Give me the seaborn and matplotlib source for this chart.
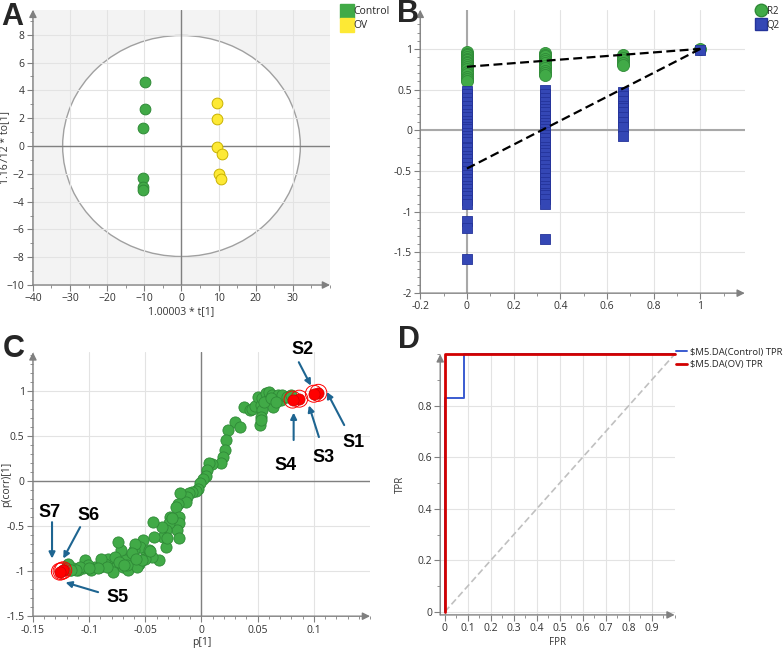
import numpy as np
import pandas as pd
import matplotlib
matplotlib.use("Agg")
import matplotlib.pyplot as plt
import seaborn as sns
from matplotlib.patches import Ellipse
from matplotlib.lines import Line2D
from matplotlib.ticker import MultipleLocator, FixedLocator

# ---------------- Panel A data (OPLS-DA scores) ----------------
a_ctrl_t = [-9.8, -9.8, -10.4, -10.4, -10.4, -10.4]
a_ctrl_to = [4.63, 2.65, 1.33, -2.29, -2.96, -3.18]
a_ov_t = [9.5, 9.5, 9.5, 10.9, 10.2, 10.7]
a_ov_to = [3.08, 1.93, -0.05, -0.6, -1.98, -2.34]
a_ellipse = (32.0, 7.95)  # half-axes

# ---------------- Panel B data (permutation test) ----------------
b_r2_0 = [0.96, 0.94, 0.92, 0.90, 0.88, 0.86, 0.84, 0.82, 0.80, 0.78, 0.75, 0.72,
          0.69, 0.66, 0.63, 0.60]
b_q2_0 = [0.48, 0.44, 0.40, 0.35, 0.30, 0.25, 0.20, 0.16, 0.12, 0.08, 0.04, 0.01,
          -0.03, -0.07, -0.11, -0.15, -0.20, -0.22, -0.27, -0.31, -0.35, -0.40,
          -0.45, -0.50, -0.55, -0.60, -0.64, -0.68, -0.72, -0.77, -0.81, -0.86,
          -0.90, -1.12, -1.20, -1.58]
b_r2_1 = [0.95, 0.93, 0.91, 0.88, 0.85, 0.82, 0.79, 0.76, 0.73, 0.70, 0.68]
b_q2_1 = [0.49, 0.45, 0.40, 0.35, 0.30, 0.26, 0.22, 0.17, 0.13, 0.09, 0.05, 0.02,
          -0.02, -0.06, -0.10, -0.15, -0.20, -0.24, -0.28, -0.33, -0.38, -0.43,
          -0.48, -0.53, -0.58, -0.63, -0.68, -0.72, -0.77, -0.80, -0.85, -0.91,
          -1.34]
b_r2_2 = [0.92, 0.89, 0.86, 0.83, 0.80]
b_q2_2 = [0.47, 0.42, 0.36, 0.30, 0.27, 0.22, 0.16, 0.10, 0.04, -0.07]
b_r2_3 = [1.0]
b_q2_3 = [0.99]
b_perm_x = [0.0, 0.333, 0.667, 1.0]
b_r2_line = [0.78, 1.0]   # intercept at x=0, value at x=1
b_q2_line = [-0.47, 1.0]

# ---------------- Panel C data (S-plot) ----------------
c_p = [0.038, 0.043, 0.045, 0.048, 0.050, 0.053, 0.054, 0.057, 0.059, 0.060,
       0.063, 0.064, 0.068, 0.071, 0.072, 0.076, 0.080, 0.054, 0.053, 0.052,
       0.053, 0.056, 0.062, 0.066,
       0.030, 0.034, 0.024, 0.022, 0.021, 0.019, 0.017, 0.0095, 0.007, 0.005,
       0.0036, 0.001, -0.001, -0.003, -0.005, -0.008, -0.011, -0.013, -0.014,
       -0.019, -0.021, -0.023, -0.020, -0.020, -0.022, -0.028, -0.029, -0.032,
       -0.034, -0.032, -0.035, -0.038, -0.020, -0.031, -0.0435, -0.0426, -0.026,
       -0.044, -0.049, -0.052, -0.055, -0.056, -0.060, -0.059, -0.0635, -0.068,
       -0.072, -0.074, -0.070, -0.077, -0.080, -0.083, -0.086, -0.0905, -0.095,
       -0.098, -0.104, -0.105, -0.110, -0.114, -0.119, -0.117, -0.065, -0.057,
       -0.0505, -0.053, -0.047, -0.089, -0.101, -0.077, -0.079, -0.062, -0.066,
       -0.084, -0.092, -0.108, -0.112, -0.100, -0.073, -0.069, -0.058, -0.046,
       -0.121, -0.116]
c_pcorr = [0.826, 0.79, 0.80, 0.83, 0.93, 0.845, 0.92, 0.975, 0.90, 0.99,
           0.955, 0.826, 0.955, 0.90, 0.955, 0.93, 0.955, 0.79, 0.715, 0.62,
           0.68, 0.88, 0.92, 0.88,
           0.66, 0.60, 0.567, 0.456, 0.344, 0.27, 0.196, 0.19, 0.196, 0.122,
           0.06, 0.022, -0.026, -0.089, -0.11, -0.12, -0.137, -0.174, -0.23,
           -0.137, -0.25, -0.285, -0.396, -0.47, -0.544, -0.396, -0.47, -0.544,
           -0.618, -0.73, -0.507, -0.878, -0.637, -0.637, -0.452, -0.618, -0.415,
           -0.84, -0.80, -0.656, -0.73, -0.915, -0.767, -0.693, -0.84, -0.878,
           -0.767, -0.674, -0.952, -0.915, -0.97, -0.86, -0.915, -0.952, -0.952,
           -0.989, -0.878, -0.97, -0.989, -0.97, -0.915, -0.989, -0.989, -0.952,
           -0.86, -0.878, -0.767, -0.86, -0.933, -0.84, -1.007, -0.80, -0.93,
           -0.95, -0.97, -0.95, -0.99, -0.96, -0.90, -0.93, -0.86, -0.78,
           -0.96, -0.99]
c_sel_p = [0.104, 0.100, 0.087, 0.081, -0.1245, -0.123, -0.126]
c_sel_pcorr = [0.98, 0.97, 0.915, 0.905, -1.0, -0.99, -1.005]
c_labels = ["S1", "S2", "S3", "S4", "S5", "S6", "S7"]
c_label_xy = [(0.1357, 0.433), (0.090, 1.456), (0.109, 0.267), (0.075, 0.178),
              (-0.075, -1.289), (-0.1009, -0.378), (-0.1348, -0.344)]
c_arrow_tail = [(0.127, 0.622), (0.0866, 1.32), (0.1045, 0.489), (0.082, 0.456),
                (-0.092, -1.233), (-0.108, -0.511), (-0.133, -0.456)]
c_arrow_head = [(0.1115, 0.99), (0.0974, 1.06), (0.0956, 0.84), (0.082, 0.76),
                (-0.121, -1.125), (-0.123, -0.86), (-0.133, -0.86)]

# ---------------- Panel D data (ROC) ----------------
d_ctrl_fpr = [0.0, 0.0, 0.083, 0.083, 1.0]
d_ctrl_tpr = [0.0, 0.83, 0.83, 1.0, 1.0]
d_ov_fpr = [0.0, 0.0, 1.0]
d_ov_tpr = [0.0, 1.0, 1.0]

# ---------------- styling ----------------
sns.set_style("white")
plt.rcParams["font.family"] = ["Open Sans", "DejaVu Sans"]

GREEN = "#41aa47"
GREEN_E = "#2f8a37"
YELLOW = "#fde935"
YELLOW_E = "#c9b200"
BLUE = "#3447b5"
BLUE_E = "#24339a"
RED = "#ff0000"
GRID = "#e3e3e3"
AXC = "#808080"
TXT = "#333333"
ARROW = "#1e6591"

fig = plt.figure(figsize=(7.84, 6.5), dpi=100)


def style_axes(ax):
    for s in ax.spines.values():
        s.set_visible(False)
    ax.annotate("", xy=(1.0, 0), xytext=(0, 0), xycoords="axes fraction",
                arrowprops=dict(arrowstyle="-|>", color=AXC, lw=1.0,
                                mutation_scale=11, shrinkA=0, shrinkB=0))
    ax.annotate("", xy=(0, 1.0), xytext=(0, 0), xycoords="axes fraction",
                arrowprops=dict(arrowstyle="-|>", color=AXC, lw=1.0,
                                mutation_scale=11, shrinkA=0, shrinkB=0))
    ax.tick_params(which="both", direction="out", color=AXC, labelsize=7.5,
                   labelcolor=TXT, left=True, bottom=True, pad=2)
    ax.tick_params(which="major", length=4, width=0.8)
    ax.tick_params(which="minor", length=2, width=0.6)
    ax.grid(True, which="major", color=GRID, lw=0.8)
    ax.set_axisbelow(True)


# ---------------- Panel A ----------------
axA = fig.add_axes([0.042, 0.5615, 0.379, 0.4235])
axA.set_facecolor("#f3f3f3")
axA.add_patch(Ellipse((0, 0), 2 * a_ellipse[0], 2 * a_ellipse[1], facecolor="white",
                      edgecolor="#a0a0a0", lw=1.0, zorder=0.2))
dfA = pd.DataFrame({
    "t": a_ctrl_t + a_ov_t,
    "to": a_ctrl_to + a_ov_to,
    "grp": ["Control"] * len(a_ctrl_t) + ["OV"] * len(a_ov_t),
})
for g, fc, ec in [("Control", GREEN, GREEN_E), ("OV", YELLOW, YELLOW_E)]:
    sns.scatterplot(data=dfA[dfA.grp == g], x="t", y="to", ax=axA, s=60,
                    color=fc, edgecolor=ec, linewidth=0.7, zorder=3, legend=False)
axA.axhline(0, color=AXC, lw=1.0, zorder=1)
axA.axvline(0, color=AXC, lw=1.0, zorder=1)
axA.set_xlim(-40, 40)
axA.set_ylim(-10, 9.8)
axA.xaxis.set_major_locator(FixedLocator([-40, -30, -20, -10, 0, 10, 20, 30]))
axA.xaxis.set_minor_locator(MultipleLocator(5))
axA.yaxis.set_major_locator(MultipleLocator(2))
axA.yaxis.set_minor_locator(MultipleLocator(1))
style_axes(axA)
axA.set_xlabel("1.00003 * t[1]", fontsize=7.5, color=TXT, labelpad=1)
axA.set_ylabel("1.16712 * to[1]", fontsize=7.5, color=TXT)
axA.yaxis.set_label_coords(-0.078, 0.5)
handlesA = [Line2D([], [], marker="s", ls="", markersize=10, color=GREEN, mec=GREEN),
            Line2D([], [], marker="s", ls="", markersize=10, color=YELLOW, mec=YELLOW)]
fig.legend(handlesA, ["Control", "OV"], loc="upper left",
           bbox_to_anchor=(336 / 784, 1 - 0 / 650), frameon=False, fontsize=7.5,
           handletextpad=0.1, labelspacing=0.3, borderaxespad=0.2, handlelength=1.0)

# ---------------- Panel B ----------------
axB = fig.add_axes([0.536, 0.549, 0.414, 0.436])
r2_x, r2_y, q2_x, q2_y = [], [], [], []
for xv, r2, q2 in zip(b_perm_x, [b_r2_0, b_r2_1, b_r2_2, b_r2_3],
                      [b_q2_0, b_q2_1, b_q2_2, b_q2_3]):
    r2_x += [xv] * len(r2)
    r2_y += r2
    q2_x += [xv] * len(q2)
    q2_y += q2
dfR2 = pd.DataFrame({"x": r2_x, "y": r2_y})
dfQ2 = pd.DataFrame({"x": q2_x, "y": q2_y})
axB.axhline(0, color="#a8a8a8", lw=1.5, zorder=1)
axB.axvline(0, color="#a8a8a8", lw=1.5, zorder=1)
sns.scatterplot(data=dfR2, x="x", y="y", ax=axB, s=75, color=GREEN, edgecolor=GREEN_E,
                linewidth=0.6, marker="o", zorder=3, legend=False)
sns.scatterplot(data=dfQ2, x="x", y="y", ax=axB, s=55, color=BLUE, edgecolor=BLUE_E,
                linewidth=0.6, marker="s", zorder=4, legend=False)
dfL = pd.DataFrame({"x": [0, 1, 0, 1],
                    "y": b_r2_line + b_q2_line,
                    "k": ["R2", "R2", "Q2", "Q2"]})
for k in ["R2", "Q2"]:
    sns.lineplot(data=dfL[dfL.k == k], x="x", y="y", ax=axB, color="black", lw=1.6,
                 ls=(0, (4, 2)), zorder=5, legend=False)
axB.set_xlim(-0.2, 1.19)
axB.set_ylim(-2, 1.48)
axB.xaxis.set_major_locator(FixedLocator([-0.2, 0, 0.2, 0.4, 0.6, 0.8, 1.0]))
axB.xaxis.set_minor_locator(MultipleLocator(0.1))
axB.yaxis.set_major_locator(FixedLocator([-2, -1.5, -1, -0.5, 0, 0.5, 1]))
axB.yaxis.set_minor_locator(MultipleLocator(0.1))
axB.xaxis.set_major_formatter(matplotlib.ticker.FuncFormatter(lambda v, p: f"{v:g}"))
axB.yaxis.set_major_formatter(matplotlib.ticker.FuncFormatter(lambda v, p: f"{v:g}"))
style_axes(axB)
axB.set_xlabel("")
axB.set_ylabel("")
handlesB = [Line2D([], [], marker="o", ls="", markersize=9, color=GREEN, mec=GREEN_E),
            Line2D([], [], marker="s", ls="", markersize=8, color=BLUE, mec=BLUE_E)]
fig.legend(handlesB, ["R2", "Q2"], loc="upper left",
           bbox_to_anchor=(750 / 784, 1 - 0 / 650), frameon=False, fontsize=7,
           handletextpad=0.1, labelspacing=0.3, borderaxespad=0.2, handlelength=1.0)

# ---------------- Panel C ----------------
axC = fig.add_axes([0.042, 0.052, 0.430, 0.406])
axC.axhline(0, color=AXC, lw=1.0, zorder=1)
axC.axvline(0, color=AXC, lw=1.0, zorder=1)
dfC = pd.DataFrame({"p": c_p, "pcorr": c_pcorr})
sns.scatterplot(data=dfC, x="p", y="pcorr", ax=axC, s=65, color=GREEN, edgecolor=GREEN_E,
                linewidth=0.6, zorder=3, legend=False)
dfS = pd.DataFrame({"p": c_sel_p, "pcorr": c_sel_pcorr})
sns.scatterplot(data=dfS, x="p", y="pcorr", ax=axC, s=150, facecolor="none",
                edgecolor=RED, linewidth=0.7, zorder=4, legend=False)
sns.scatterplot(data=dfS, x="p", y="pcorr", ax=axC, s=65, color=RED, edgecolor="#d00000",
                linewidth=0.5, zorder=5, legend=False)
axC.set_xlim(-0.15, 0.15)
axC.set_ylim(-1.5, 1.43)
axC.xaxis.set_major_locator(FixedLocator([-0.15, -0.1, -0.05, 0, 0.05, 0.1]))
axC.xaxis.set_minor_locator(MultipleLocator(0.01))
axC.yaxis.set_major_locator(FixedLocator([-1.5, -1, -0.5, 0, 0.5, 1]))
axC.yaxis.set_minor_locator(MultipleLocator(0.1))
axC.xaxis.set_major_formatter(matplotlib.ticker.FuncFormatter(lambda v, p: f"{v:g}"))
axC.yaxis.set_major_formatter(matplotlib.ticker.FuncFormatter(lambda v, p: f"{v:g}"))
style_axes(axC)
axC.set_xlabel("p[1]", fontsize=7.5, color=TXT, labelpad=1)
axC.set_ylabel("p(corr)[1]", fontsize=7.5, color=TXT)
axC.yaxis.set_label_coords(-0.062, 0.5)
for lab, txy, tail, head in zip(c_labels, c_label_xy, c_arrow_tail, c_arrow_head):
    axC.annotate("", xy=head, xytext=tail, annotation_clip=False,
                 arrowprops=dict(arrowstyle="-|>", color=ARROW, lw=1.5,
                                 mutation_scale=9, shrinkA=0, shrinkB=0), zorder=6)
    axC.text(txy[0], txy[1], lab, fontsize=13, fontweight="bold",
             family=["Liberation Sans", "DejaVu Sans"], color="black",
             ha="center", va="center", clip_on=False, zorder=7)

# ---------------- Panel D ----------------
axD = fig.add_axes([0.5615, 0.054, 0.299, 0.401])
dfD = pd.DataFrame({
    "fpr": d_ctrl_fpr + d_ov_fpr,
    "tpr": d_ctrl_tpr + d_ov_tpr,
    "k": ["c"] * len(d_ctrl_fpr) + ["o"] * len(d_ov_fpr),
})
axD.plot([0, 1], [0, 1], color="#c0c0c0", lw=1.2, ls=(0, (4, 2)), zorder=2)
sns.lineplot(data=dfD[dfD.k == "c"], x="fpr", y="tpr", ax=axD, sort=False,
             estimator=None, color="#3a5bd0", lw=1.4, zorder=3, legend=False)
sns.lineplot(data=dfD[dfD.k == "o"], x="fpr", y="tpr", ax=axD, sort=False,
             estimator=None, color="#d20000", lw=2.0, zorder=4, legend=False)
for ln in axD.get_lines():
    ln.set_clip_on(False)
axD.set_xlim(-0.02, 1.0)
axD.set_ylim(-0.012, 1.0)
axD.xaxis.set_major_locator(FixedLocator([0, 0.1, 0.2, 0.3, 0.4, 0.5, 0.6, 0.7, 0.8, 0.9]))
axD.xaxis.set_minor_locator(MultipleLocator(0.05))
axD.yaxis.set_major_locator(FixedLocator([0, 0.2, 0.4, 0.6, 0.8]))
axD.yaxis.set_minor_locator(MultipleLocator(0.1))
axD.xaxis.set_major_formatter(matplotlib.ticker.FuncFormatter(lambda v, p: f"{v:g}"))
axD.yaxis.set_major_formatter(matplotlib.ticker.FuncFormatter(lambda v, p: f"{v:g}"))
style_axes(axD)
axD.set_xlabel("FPR", fontsize=7, color=TXT, labelpad=2)
axD.set_ylabel("TPR", fontsize=7, color=TXT, labelpad=8)
handlesD = [Line2D([], [], color="#3a5bd0", lw=1.4), Line2D([], [], color="#d20000", lw=2.0)]
fig.legend(handlesD, ["$M5.DA(Control) TPR", "$M5.DA(OV) TPR"], loc="upper left",
           bbox_to_anchor=(670 / 784, 1 - 342 / 650), frameon=False, fontsize=6.8,
           handletextpad=0.3, labelspacing=0.4, borderaxespad=0.2, handlelength=1.2)

# ---------------- Panel letters ----------------
for lab, x, y in [("A", 1, 17), ("B", 397, 14), ("C", 3, 349), ("D", 398, 340)]:
    fig.text(x / 784, 1 - y / 650, lab, fontsize=22, fontweight="bold",
             family=["Liberation Sans", "DejaVu Sans"], ha="left", va="center")

fig.savefig("out.png", dpi=100)
